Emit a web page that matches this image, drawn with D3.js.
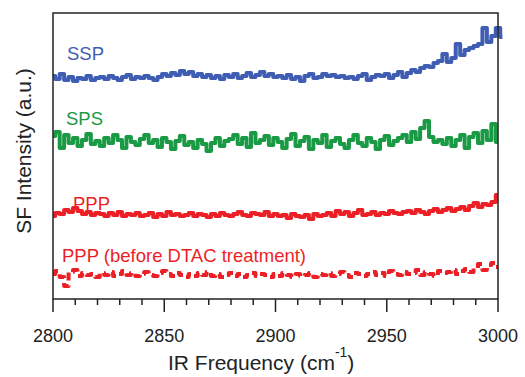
<!DOCTYPE html>
<html><head><meta charset="utf-8">
<script src="https://cdn.jsdelivr.net/npm/d3@7"></script>
<style>body{margin:0;background:#fff}svg text{font-family:"Liberation Sans",Arial,sans-serif;fill:#222}</style>
</head><body><svg id="c" width="525" height="377"></svg>
<script>
const freqStart = 2800, freqStep = 2;
const xTicks = [2800, 2850, 2900, 2950, 3000];
const seriesNames = ["SSP", "SPS", "PPP", "PPP (before DTAC treatment)"];
const seriesColors = ["#3f5db3", "#1b9a45", "#ec1f26", "#ec1f26"];
const ssp = [222,219,224,218,221,217,220,219,222,218,220,
 221,219,222,220,218,221,223,219,221,220,
 222,220,218,221,224,222,225,223,227,224,
 226,222,224,221,223,220,222,219,223,221,
 224,220,222,225,221,223,226,222,224,221,
 222,220,223,219,221,217,222,224,220,221,
 224,222,223,221,222,220,221,219,222,224,
 218,221,223,222,224,220,223,226,221,225,
 228,226,230,232,231,235,237,244,236,240,
 254,243,248,250,252,254,270,256,262,270,261];
const sps = [162,166,150,163,155,160,152,158,164,154,157,
 152,160,155,163,158,150,161,156,153,159,
 163,155,158,151,160,156,149,157,162,153,
 156,150,158,154,147,155,160,152,157,159,
 163,154,160,151,165,155,158,162,153,160,
 156,150,159,164,152,157,161,149,158,155,
 163,151,157,160,154,150,158,163,155,152,
 160,156,149,158,162,153,157,160,163,156,
 166,159,170,177,161,156,158,154,160,152,
 158,163,150,161,165,155,167,158,174,156];
const ppp = [82,85,84,88,86,90,87,84,86,83,85,
 84,82,85,83,86,82,84,83,85,82,
 83,85,81,84,82,86,83,84,82,83,
 85,82,84,83,81,84,82,85,83,82,
 84,86,83,82,85,84,83,86,82,84,
 82,83,80,84,82,81,83,79,84,82,
 83,85,82,87,84,86,82,85,88,83,
 84,86,83,85,84,87,85,84,86,87,
 85,88,86,84,87,89,86,88,90,87,
 89,91,88,92,95,91,94,93,96,103];
const pppBefore = [24,27,21,12,26,28,22,25,23,24,21,
 25,23,26,22,24,27,23,25,22,24,
 26,23,22,25,27,24,22,25,23,21,
 24,22,25,23,26,22,24,21,23,25,
 22,24,21,23,25,22,24,23,21,24,
 22,25,23,21,24,22,23,25,21,24,
 23,25,22,24,26,23,21,25,24,22,
 24,26,23,25,22,27,24,23,26,24,
 25,28,23,26,24,22,27,25,26,28,
 24,27,29,26,30,34,28,33,35,31];
const seriesValues = [ssp, sps, ppp, pppBefore];

const svg = d3.select("#c");
const L = 53, R = 498, T = 13, B = 299;
const x = d3.scaleLinear().domain([2800, 3000]).range([L, R]);
const y = d3.scaleLinear().domain([0, 286]).range([298, 12]);

const line = d3.line().curve(d3.curveStep)
  .x((d, i) => x(freqStart + i * freqStep)).y(d => y(d));
seriesValues.forEach((vals, k) => {
  svg.append("path").attr("d", line(vals)).attr("fill", "none")
    .attr("stroke", seriesColors[k]).attr("stroke-width", 4)
    .attr("stroke-linejoin", "round")
    .attr("stroke-dasharray", k === 3 ? "8,5" : null);
});

// frame
svg.append("rect").attr("x", L).attr("y", T).attr("width", R - L).attr("height", B - T)
  .attr("fill", "none").attr("stroke", "#222").attr("stroke-width", 1.5);

// x axis ticks
const minor = d3.range(2800, 3001, 10);
svg.selectAll("line.t").data(minor).join("line")
  .attr("x1", d => x(d)).attr("x2", d => x(d)).attr("y1", B)
  .attr("y2", d => B + (d % 50 === 0 ? 13 : 6))
  .attr("stroke", "#222").attr("stroke-width", 1.5);
svg.selectAll("text.tl").data(xTicks).join("text")
  .attr("x", d => x(d)).attr("y", 342).attr("text-anchor", "middle")
  .attr("font-size", 18).text(d => d);

// axis titles
const xt = svg.append("text").attr("x", 168).attr("y", 370).attr("font-size", 21);
xt.append("tspan").text("IR Frequency (cm");
xt.append("tspan").attr("dy", -13).attr("font-size", 14).text("-1");
xt.append("tspan").attr("dy", 13).text(")");
svg.append("text").attr("transform", "translate(31,151) rotate(-90)")
  .attr("text-anchor", "middle").attr("font-size", 21).text("SF Intensity (a.u.)");

// series labels
const labelPos = [[67, 60], [66, 125], [73, 210], [62, 262]];
seriesNames.forEach((n, k) => {
  svg.append("text").attr("x", labelPos[k][0]).attr("y", labelPos[k][1])
    .attr("font-size", 18.5).style("fill", seriesColors[k]).text(n);
});
</script></body></html>
